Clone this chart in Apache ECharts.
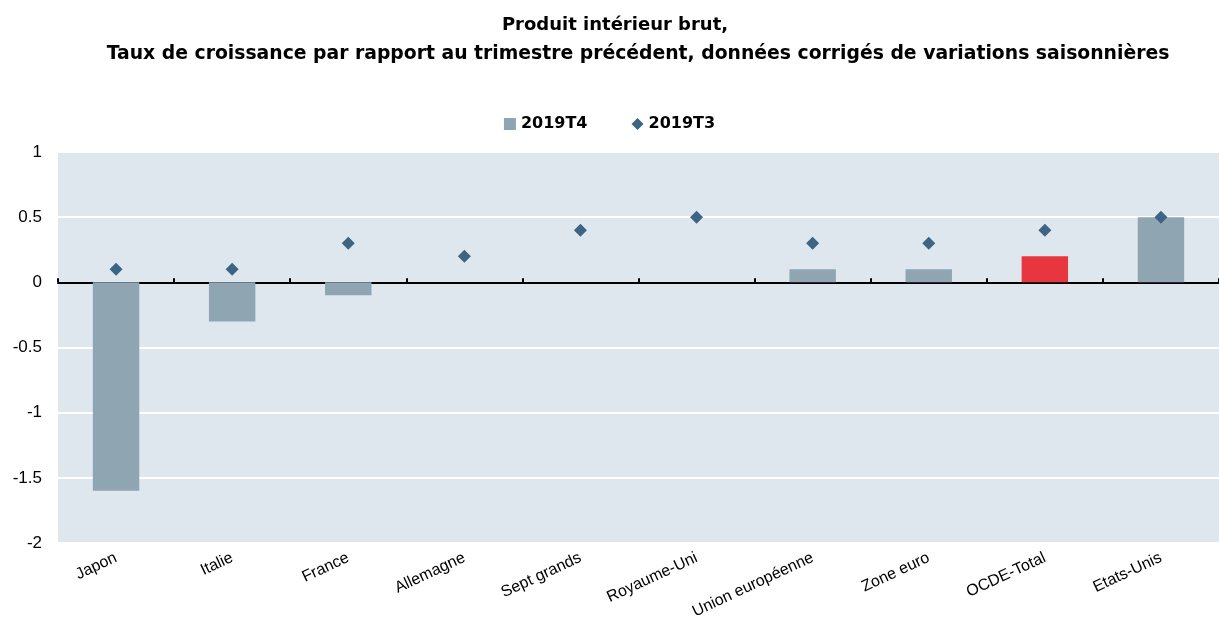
<!DOCTYPE html>
<html>
<head>
<meta charset="utf-8">
<script src="https://cdn.jsdelivr.net/npm/echarts@6/dist/echarts.min.js"></script>
<style>
  html, body { margin: 0; padding: 0; background: #fff; }
  #chart { width: 1219px; height: 628px; }
</style>
</head>
<body>
<div id="chart"></div>
<script>
const categories = ['Japon', 'Italie', 'France', 'Allemagne', 'Sept grands', 'Royaume-Uni', 'Union européenne', 'Zone euro', 'OCDE-Total', 'Etats-Unis'];
const t4Values = [-1.6, -0.3, -0.1, 0, 0, 0, 0.1, 0.1, 0.2, 0.5];
const t3Values = [0.1, 0.1, 0.3, 0.2, 0.4, 0.5, 0.3, 0.3, 0.4, 0.5];
const highlight = 'OCDE-Total';

const chart = echarts.init(document.getElementById('chart'));

const font = 'Liberation Sans, Arial, sans-serif';
const wideFont = 'DejaVu Sans, Liberation Sans, sans-serif';

let option = {
  animation: false,
  title: [{
    text: 'Produit intérieur brut,',
    left: 610,
    top: 11,
    textAlign: 'center',
    textStyle: {
      fontFamily: wideFont,
      fontSize: 18,
      fontWeight: 'bold',
      color: '#000',
    },
  }, {
    text: 'Taux de croissance par rapport au trimestre précédent, données corrigés de variations saisonnières',
    left: 633,
    top: 40,
    textAlign: 'center',
    textStyle: {
      fontFamily: wideFont,
      fontSize: 18.8,
      fontWeight: 'bold',
      color: '#000',
    },
  }],
  legend: {
    top: 111,
    left: 'center',
    itemGap: 44,
    itemWidth: 12,
    itemHeight: 12,
    textStyle: {
      fontFamily: wideFont,
      fontSize: 16,
      fontWeight: 'bold',
      color: '#000',
    },
    data: [
      { name: '2019T4', icon: 'rect' },
      { name: '2019T3', icon: 'diamond', itemStyle: { color: '#3d6483', opacity: 1 } },
    ],
  },
  grid: {
    left: 58,
    right: 0,
    top: 152,
    bottom: 85,
    show: true,
    backgroundColor: '#dee7ee',
    borderWidth: 0,
  },
  xAxis: [{
    type: 'category',
    data: categories,
    position: 'bottom',
    axisLine: { show: false, onZero: false },
    axisTick: { show: false },
    axisLabel: {
      rotate: 25,
      margin: 14,
      interval: 0,
      fontFamily: font,
      fontSize: 16,
      color: '#000',
    },
  }, {
    type: 'category',
    data: categories,
    position: 'bottom',
    axisLine: { show: true, onZero: true, lineStyle: { color: '#000', width: 2 } },
    axisTick: { show: true, inside: true, interval: 0, length: 4, lineStyle: { color: '#000', width: 2 } },
    axisLabel: { show: false },
  }],
  yAxis: {
    type: 'value',
    min: -2,
    max: 1,
    interval: 0.5,
    axisLine: { show: false },
    axisTick: { show: false },
    axisLabel: {
      margin: 16,
      fontFamily: font,
      fontSize: 17,
      color: '#000',
    },
    splitLine: {
      lineStyle: { color: '#ffffff', width: 2 },
    },
  },
  series: [{
    name: '2019T4',
    type: 'bar',
    xAxisIndex: 0,
    barWidth: '40%',
    itemStyle: { color: '#8fa5b2' },
    data: t4Values.map((v, i) => categories[i] === highlight
      ? { value: v, itemStyle: { color: '#e8363f' } }
      : v),
    z: 2,
  }, {
    name: '2019T3',
    type: 'scatter',
    xAxisIndex: 0,
    symbol: 'diamond',
    symbolSize: [13, 13],
    itemStyle: { color: '#3d6483', opacity: 1 },
    data: t3Values,
    z: 5,
  }],
};

chart.setOption(option);
</script>
</body>
</html>
